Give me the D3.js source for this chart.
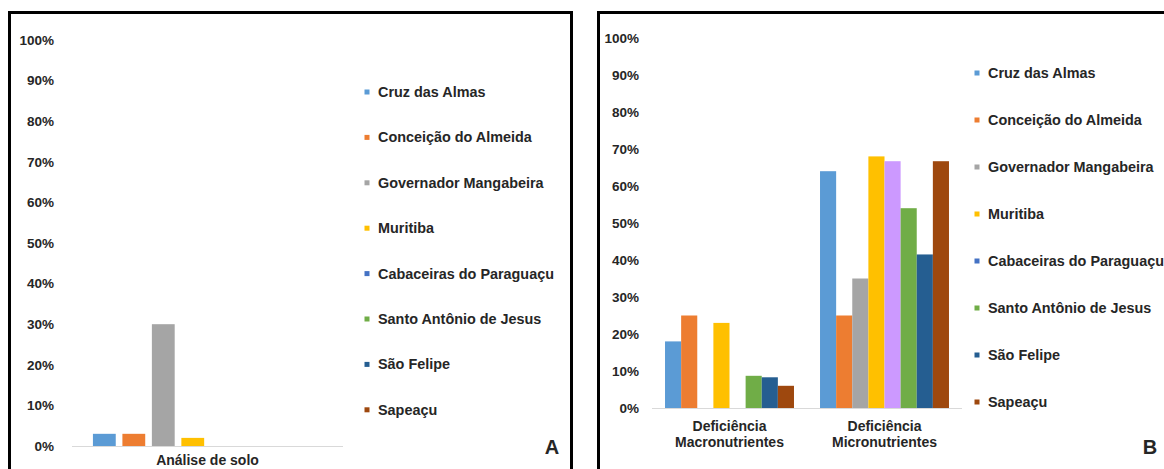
<!DOCTYPE html>
<html>
<head>
<meta charset="utf-8">
<script src="https://cdn.jsdelivr.net/npm/d3@7"></script>
<style>
  html, body { margin: 0; padding: 0; background: #fff; }
  svg { display: block; }
  text { font-family: "Liberation Sans", Arial, sans-serif; font-weight: bold; fill: #262626; }
</style>
</head>
<body>
<svg id="chart" width="1164" height="469"></svg>
<script>
// Municipalities (series) and their colours
const municipios = [
  "Cruz das Almas", "Conceição do Almeida", "Governador Mangabeira", "Muritiba",
  "Cabaceiras do Paraguaçu", "Santo Antônio de Jesus", "São Felipe", "Sapeaçu"
];
const seriesColors = ["#5B9BD5", "#ED7D31", "#A5A5A5", "#FFC000", "#4472C4", "#70AD47", "#255E91", "#9E480E"];

// Panel A: soil analysis
const categoriasA = ["Análise de solo"];
const valoresA = [[0.03, 0.03, 0.30, 0.02, 0, 0, 0, 0]];

// Panel B: nutrient deficiency
const categoriasB = [["Deficiência", "Macronutrientes"], ["Deficiência", "Micronutrientes"]];
const valoresB = [
  [0.18, 0.25, 0, 0.23, 0, 0.087, 0.083, 0.06],
  [0.64, 0.25, 0.35, 0.68, 0.667, 0.54, 0.415, 0.667]
];
// Single-point colour override in panel B (Cabaceiras do Paraguaçu, micronutrients)
const pointColorsB = { "1-4": "#CC99FF" };

const tickValues = [0, 0.1, 0.2, 0.3, 0.4, 0.5, 0.6, 0.7, 0.8, 0.9, 1.0];
const pct = d3.format(".0%");

const svg = d3.select("#chart");

function panel(cfg) {
  const g = svg.append("g");

  // frame
  g.append("path")
    .attr("d", cfg.frame)
    .attr("fill", "none").attr("stroke", "#000").attr("stroke-width", 3);

  const y = d3.scaleLinear().domain([0, 1]).range([cfg.y0, cfg.y1]);
  const x0 = d3.scaleBand().domain(d3.range(cfg.categories.length))
    .range(cfg.xRange).paddingInner(cfg.padInner).paddingOuter(cfg.padOuter);
  const x1 = d3.scaleBand().domain(d3.range(municipios.length))
    .range([0, x0.bandwidth()]).paddingInner(cfg.barPad).paddingOuter(cfg.barPadOuter);

  // y axis labels
  const yAxis = d3.axisLeft(y).tickValues(tickValues).tickFormat(pct).tickSize(0).tickPadding(0);
  const ya = g.append("g").attr("transform", `translate(${cfg.labelX},0)`).call(yAxis);
  ya.select(".domain").remove();
  ya.selectAll("text").attr("font-size", 13.5).attr("font-family", null).attr("fill", null);

  // baseline
  g.append("line")
    .attr("x1", cfg.axisRange[0]).attr("x2", cfg.axisRange[1])
    .attr("y1", y(0) + 0.5).attr("y2", y(0) + 0.5)
    .attr("stroke", "#D9D9D9").attr("stroke-width", 1);

  // bars
  cfg.values.forEach((vals, ci) => {
    g.append("g").selectAll("rect").data(vals).join("rect")
      .attr("x", (d, si) => x0(ci) + x1(si))
      .attr("width", x1.bandwidth())
      .attr("y", d => y(d))
      .attr("height", d => y(0) - y(d))
      .attr("fill", (d, si) => (cfg.overrides && cfg.overrides[`${ci}-${si}`]) || seriesColors[si]);
  });

  // category labels
  cfg.categories.forEach((c, ci) => {
    const lines = Array.isArray(c) ? c : [c];
    const t = g.append("text")
      .attr("text-anchor", "middle").attr("font-size", 14)
      .attr("x", x0(ci) + x0.bandwidth() / 2)
      .attr("y", cfg.catLabelY);
    lines.forEach((ln, li) => {
      t.append("tspan").attr("x", x0(ci) + x0.bandwidth() / 2)
        .attr("dy", li === 0 ? 0 : 16).text(ln);
    });
  });

  // legend
  const lg = g.append("g").selectAll("g").data(municipios).join("g")
    .attr("transform", (d, i) => `translate(${cfg.legendX},${cfg.legendY + i * cfg.legendStep})`);
  lg.append("rect").attr("x", -2.5).attr("y", -2.5).attr("width", 5).attr("height", 5)
    .attr("fill", (d, i) => seriesColors[i]);
  lg.append("text").attr("x", 11).attr("y", 5).attr("font-size", 14.4).text(d => d);

  // panel letter
  g.append("text").attr("x", cfg.letterX).attr("y", 454)
    .attr("font-size", 20).attr("text-anchor", "middle").text(cfg.letter);
}

panel({
  frame: "M9.5,470 V12.5 H571.5 V470",
  y0: 446, y1: 40,
  labelX: 54,
  categories: categoriasA, values: valoresA,
  xRange: [72, 343], axisRange: [72, 343], padInner: 0, padOuter: 0,
  barPad: 0.226, barPadOuter: 0.71,
  catLabelY: 465,
  legendX: 367, legendY: 92, legendStep: 45.4,
  letter: "A", letterX: 552
});

panel({
  frame: "M598.5,470 V12.5 H1170",
  y0: 408, y1: 38,
  labelX: 639,
  categories: categoriasB, values: valoresB, overrides: pointColorsB,
  xRange: [652, 962], axisRange: [652, 962], padInner: 0.168, padOuter: 0.084,
  barPad: 0, barPadOuter: 0,
  catLabelY: 431,
  legendX: 977, legendY: 73, legendStep: 47,
  letter: "B", letterX: 1150
});
</script>
</body>
</html>
